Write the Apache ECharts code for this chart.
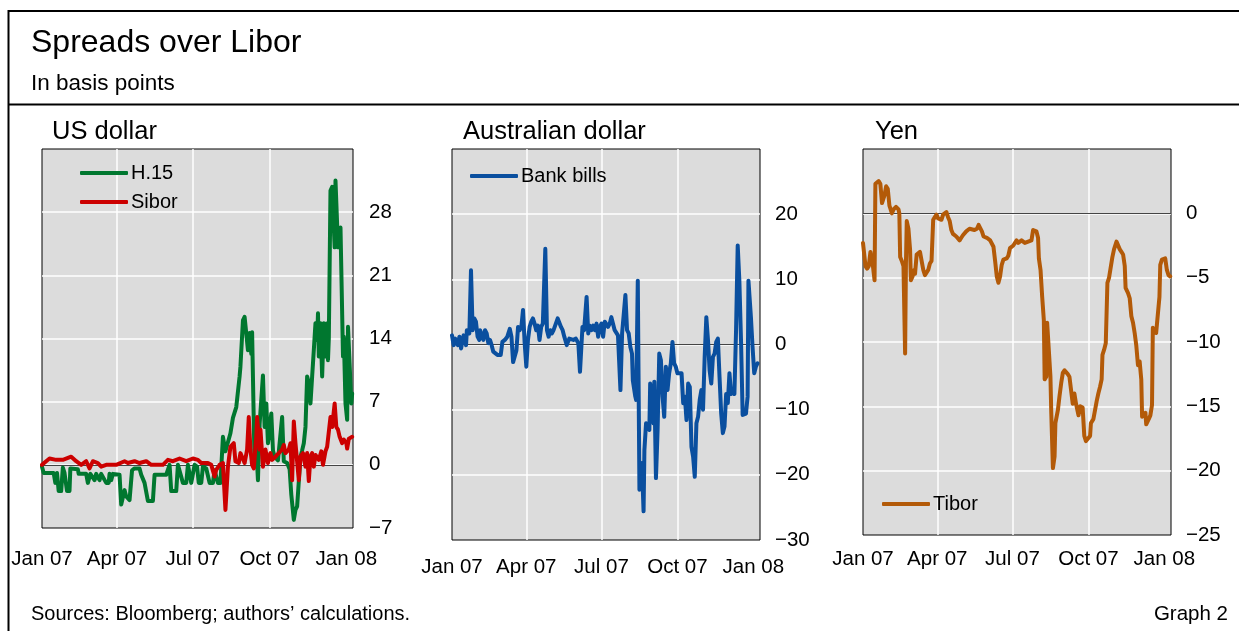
<!DOCTYPE html>
<html>
<head>
<meta charset="utf-8">
<script src="https://cdn.jsdelivr.net/npm/echarts@6/dist/echarts.min.js"></script>
<style>
html,body{margin:0;padding:0;background:#fff;}
#chart{width:1239px;height:631px;}
</style>
</head>
<body>
<div id="chart"></div>
<script>
// x values are days since 1 Jan 2007
const xTickDays = [0, 90, 181, 273, 365];
const xTickLabels = ['Jan 07', 'Apr 07', 'Jul 07', 'Oct 07', 'Jan 08'];
const panelTitles = ['US dollar', 'Australian dollar', 'Yen'];

// US dollar: H.15 spread over Libor
const h15 = [[0,-0.2],[2,-0.9],[14,-0.9],[16,-2.0],[17,-2.0],[18,-0.9],[20,-2.9],[23,-2.9],[25,-0.3],[27,-0.9],[30,-2.9],[33,-2.9],[34,-0.4],[43,-0.5],[44,-1.0],[53,-1.0],[55,-2.0],[57,-2.0],[58,-1.0],[63,-1.7],[65,-1.0],[69,-1.7],[71,-1.0],[77,-2.0],[80,-2.0],[81,-1.0],[83,-1.7],[85,-1.0],[93,-1.1],[95,-4.4],[97,-4.4],[99,-2.8],[101,-3.5],[105,-3.9],[108,-0.6],[111,-0.4],[117,-0.4],[119,-1.1],[123,-2.0],[125,-2.0],[127,-4.0],[133,-4.0],[135,-1.1],[149,-1.1],[153,0],[155,-2.9],[161,-2.9],[163,0],[166,-1.0],[169,-2.0],[173,-2.0],[175,0],[177,-1.0],[179,-2.0],[181,-1.0],[183,0],[186,-0.2],[188,-2.0],[191,-2.0],[193,-0.2],[197,-0.4],[201,-2.0],[205,-2.0],[207,-0.6],[211,-2.0],[214,-2.0],[217,3.1],[220,1.5],[223,2.5],[226,3.5],[229,5.2],[231,5.4],[233,6.4],[235,6.6],[237,9.8],[238,10.9],[241,16.0],[243,16.4],[245,16.2],[247,12.7],[249,14.6],[251,12.3],[252,14.7],[254,14.5],[255,-0.2],[257,2.0],[259,-1.7],[261,4.5],[265,9.9],[267,4.2],[269,6.8],[271,2.4],[275,5.7],[277,1.6],[279,0.9],[283,0.5],[288,5.3],[290,0.4],[294,0.2],[297,-0.5],[299,-3.3],[300,-3.5],[302,-6.1],[304,-5.0],[306,-4.6],[308,-4.6],[310,0.9],[312,1.6],[314,2.4],[316,4.2],[318,9.8],[320,9.1],[322,6.8],[324,9.8],[326,12.7],[328,15.7],[330,13.8],[331,16.8],[332,12.0],[334,15.7],[336,9.8],[338,15.7],[340,12.0],[342,15.7],[343,11.6],[344,14.0],[346,30.4],[348,30.8],[351,24.1],[352,31.5],[354,31.5],[355,24.1],[357,24.5],[358,26.3],[360,26.3],[361,12.0],[362,14.2],[364,6.8],[366,5.0],[367,15.3],[369,15.3],[371,6.8],[372,7.9]];

// US dollar: Sibor spread over Libor
const sibor = [[0,0],[5,0.4],[9,0.7],[17,0.55],[25,0.55],[35,0.9],[41,0.4],[47,0],[53,0.4],[57,-0.4],[61,0.4],[67,0.2],[71,-0.2],[77,0],[89,0],[99,0.4],[103,0.2],[111,0.4],[117,0.2],[125,0.4],[131,0],[145,0],[151,0.55],[157,0.4],[165,0.7],[173,0.4],[181,0.7],[187,0.55],[191,0.2],[199,0.2],[203,0],[207,-1.3],[209,-0.55],[213,0],[217,0.2],[220,-5.0],[223,-0.2],[226,2.0],[230,2.4],[232,0.4],[236,0.2],[238,1.3],[243,0.2],[246,1.7],[248,5.3],[250,1.7],[252,0],[254,-0.4],[257,3.1],[258,5.3],[261,1.7],[262,3.9],[265,-0.2],[268,1.7],[271,0.2],[274,1.3],[276,0.55],[280,0.9],[284,1.3],[288,1.7],[290,2.2],[292,1.3],[296,1.7],[298,2.4],[300,-1.7],[302,4.8],[304,2.4],[308,-1.7],[310,0.9],[313,1.3],[316,-0.2],[318,1.3],[320,-1.8],[322,0.9],[324,1.3],[326,-0.2],[328,1.1],[332,0.55],[335,1.5],[337,0],[340,1.5],[342,2.0],[346,5.3],[348,4.2],[351,6.8],[353,4.2],[355,3.9],[357,3.1],[360,2.4],[362,2.8],[365,2.4],[366,1.8],[368,2.9],[370,2.8],[372,3.1]];

// Australian dollar: bank bills spread over Libor
const bankBills = [[0,1.4],[2,-0.1],[4,0.9],[7,-0.1],[9,1.2],[11,-0.6],[14,1.4],[17,-0.1],[18,2.2],[21,1.7],[23,11.4],[25,2.2],[27,4.0],[29,3.5],[31,1.2],[33,0.7],[34,2.2],[36,2.4],[38,0.7],[40,2.2],[42,1.7],[44,0.2],[46,0.7],[48,-0.1],[50,-1.1],[52,-0.9],[55,-1.6],[57,-1.4],[59,-1.6],[61,0.4],[64,0.7],[67,1.2],[70,2.4],[72,1.2],[74,-2.7],[76,-2.7],[78,-0.9],[80,2.7],[82,2.2],[84,2.7],[86,5.3],[88,0.2],[90,-3.4],[92,0.7],[94,2.7],[96,3.5],[98,4.0],[100,3.2],[102,2.2],[104,2.9],[106,0.7],[108,2.7],[110,3.2],[113,14.7],[115,2.2],[117,1.2],[119,2.2],[121,1.7],[123,2.2],[125,2.2],[128,4.0],[130,4.3],[132,2.7],[134,2.2],[136,1.2],[139,-0.1],[142,0.9],[144,0.7],[147,0.7],[150,0.9],[153,0.2],[155,-4.2],[158,2.7],[160,2.2],[163,7.3],[165,1.7],[167,2.9],[169,2.2],[171,2.9],[173,2.2],[175,3.2],[177,1.2],[179,2.7],[181,3.2],[183,1.2],[185,3.5],[187,3.7],[189,2.7],[191,3.2],[193,4.2],[195,3.2],[197,2.2],[199,1.9],[201,1.4],[203,1.7],[204,-7.0],[206,1.7],[208,1.9],[210,7.6],[212,2.2],[214,1.7],[216,-0.4],[218,-1.4],[219,-5.5],[222,-8.0],[223,-8.5],[225,9.8],[227,-22.3],[228,-22.3],[230,-18.2],[232,-25.6],[233,-16.2],[235,-12.1],[237,-11.8],[239,-13.1],[240,-6.0],[242,-6.0],[244,-12.1],[245,-5.7],[247,-20.5],[249,-13.1],[251,-1.4],[253,-2.4],[255,-8.0],[257,-11.1],[259,-3.4],[261,-7.0],[263,-4.4],[265,-2.9],[267,0.4],[269,-2.9],[271,-3.4],[273,-4.4],[275,-4.7],[278,-4.4],[280,-9.0],[282,-8.0],[284,-11.6],[286,-6.0],[288,-6.5],[290,-15.7],[292,-17.2],[294,-20.3],[296,-12.1],[298,-11.1],[300,-8.5],[302,-7.0],[304,-10.0],[306,-1.9],[308,4.2],[310,0.7],[312,-4.0],[314,-6.0],[316,-1.9],[318,-1.4],[320,0.4],[322,0.9],[324,-5.0],[326,-10.6],[328,-13.6],[330,-12.6],[332,-7.6],[334,-9.0],[336,-4.4],[338,-7.6],[340,-7.1],[342,-7.6],[344,2.2],[346,15.2],[348,9.8],[350,0.7],[352,-10.8],[354,-10.6],[356,-10.6],[358,-8.0],[359,9.8],[362,4.2],[364,-0.4],[366,-4.4],[368,-3.4],[370,-2.9]];

// Yen: Tibor spread over Libor
const tibor = [[0,-2.3],[2,-2.2],[3,-4.1],[5,-4.3],[7,-4.1],[9,-3.0],[11,-3.1],[12,-4.1],[14,-5.2],[15,2.3],[17,2.2],[19,2.5],[21,2.3],[23,0.8],[24,0.9],[26,1.4],[28,2.1],[30,1.9],[32,0.6],[33,0.4],[35,0],[37,0.3],[40,0.5],[41,0.4],[43,0.3],[44,0],[45,-3.4],[47,-3.7],[49,-4.1],[51,-10.9],[52,-3.9],[53,-0.6],[55,-1.2],[57,-2.8],[58,-5.2],[60,-4.9],[62,-4.4],[63,-4.7],[65,-3.2],[67,-3.1],[69,-3.0],[71,-3.1],[73,-4.4],[75,-4.8],[77,-4.9],[79,-4.4],[81,-3.9],[83,-3.7],[85,-0.5],[87,-0.3],[89,-0.1],[91,-0.4],[93,-0.3],[95,-0.5],[97,-0.1],[99,0],[101,0.1],[103,-0.3],[105,-0.6],[107,-1.3],[109,-1.6],[111,-1.7],[113,-1.8],[115,-1.9],[117,-2.1],[119,-1.9],[121,-1.7],[123,-1.6],[125,-1.4],[127,-1.3],[129,-1.2],[131,-1.3],[135,-1.3],[138,-1.2],[140,-0.9],[142,-0.9],[144,-1.4],[146,-1.8],[150,-1.9],[154,-2.1],[156,-2.1],[158,-2.6],[160,-3.7],[162,-4.9],[164,-5.4],[166,-4.9],[168,-4.0],[170,-3.6],[174,-3.5],[176,-3.3],[178,-2.7],[182,-2.5],[186,-2.1],[188,-2.3],[192,-2.1],[196,-2.3],[200,-2.2],[204,-2.1],[206,-1.3],[208,-1.2],[210,-1.4],[212,-1.9],[213,-3.5],[215,-4.4],[217,-6.5],[219,-8.3],[220,-12.9],[222,-12.7],[223,-8.5],[225,-8.5],[227,-12.7],[228,-15.5],[230,-19.8],[232,-18.9],[233,-16.3],[236,-15.3],[238,-14.2],[240,-13.2],[242,-12.4],[244,-12.2],[246,-12.3],[248,-12.5],[250,-12.7],[252,-12.7],[254,-14.8],[256,-14.0],[258,-14.8],[260,-14.9],[261,-15.7],[263,-15.0],[265,-15.1],[266,-15.1],[268,-17.3],[270,-17.7],[272,-17.6],[275,-17.3],[276,-16.3],[279,-16.0],[281,-15.3],[283,-14.6],[285,-14.0],[287,-13.5],[289,-12.9],[290,-11.0],[292,-10.6],[294,-10.1],[296,-5.4],[298,-5.0],[300,-4.9],[302,-3.4],[304,-2.8],[307,-2.2],[309,-2.2],[311,-2.8],[313,-3.0],[315,-3.2],[317,-4.1],[318,-5.8],[321,-6.2],[323,-6.6],[325,-8.0],[327,-8.5],[329,-9.3],[331,-10.3],[333,-11.8],[335,-11.5],[337,-12.9],[338,-15.8],[340,-15.9],[342,-15.5],[343,-16.4],[346,-16.0],[348,-15.7],[350,-14.9],[351,-8.9],[353,-8.8],[355,-9.3],[357,-9.3],[359,-6.5],[360,-4.0],[362,-3.6],[364,-3.5],[366,-3.5],[368,-4.4],[370,-4.8],[372,-4.9]];

// y-axis scales per panel
const yScales = [
  {min: -7, max: 35, interval: 7},
  {min: -30, max: 30, interval: 10},
  {min: -25, max: 5, interval: 5}
];

const FONT = '"Liberation Sans", Arial, Helvetica, sans-serif';
const COLORS = {h15: '#00772f', sibor: '#cc0000', bank: '#0a4f9f', tibor: '#b35a08'};

const grids = [
  {left: 42, top: 149, width: 311, height: 379},
  {left: 452, top: 149, width: 308, height: 391},
  {left: 863, top: 149, width: 308, height: 386}
];
const xLabelMargins = [21, 17, 14];
const yLabelMargins = [16, 15, 15];

const minus = v => String(v).replace('-', '\u2212');

const option = {
  animation: false,
  backgroundColor: '#ffffff',
  textStyle: {fontFamily: FONT},
  grid: grids.map(g => Object.assign({show: true, backgroundColor: '#dcdcdc', borderColor: '#000', borderWidth: 1, containLabel: false}, g)),
  xAxis: grids.map((g, i) => ({
    type: 'value', gridIndex: i, min: 0, max: 373,
    axisLine: {show: false},
    axisTick: {show: false, customValues: xTickDays},
    axisLabel: {
      customValues: xTickDays,
      formatter: v => xTickLabels[xTickDays.indexOf(v)] || '',
      color: '#000', fontSize: 20.5, fontFamily: FONT, margin: xLabelMargins[i]
    },
    splitLine: {show: true, showMinLine: false, showMaxLine: false, lineStyle: {color: '#ffffff', width: 1.5}}
  })),
  yAxis: grids.map((g, i) => ({
    type: 'value', gridIndex: i, position: 'right',
    min: yScales[i].min, max: yScales[i].max, interval: yScales[i].interval,
    axisLine: {show: false}, axisTick: {show: false},
    axisLabel: {
      showMaxLabel: false, formatter: minus, color: '#000', fontSize: 20.5, fontFamily: FONT,
      align: 'left', margin: yLabelMargins[i]
    },
    splitLine: {show: true, showMinLine: false, showMaxLine: false, lineStyle: {color: '#ffffff', width: 1.5}}
  })),
  legend: [
    {data: ['H.15', 'Sibor'], left: 80, top: 163, orient: 'vertical', itemGap: 9},
    {data: ['Bank bills'], left: 470, top: 166, orient: 'vertical'},
    {data: ['Tibor'], left: 882, top: 494, orient: 'vertical'}
  ].map(l => Object.assign({
    icon: 'roundRect', itemWidth: 48, itemHeight: 4, padding: 0, selectedMode: false,
    textStyle: {fontSize: 20, fontFamily: FONT, color: '#000', lineHeight: 20, padding: [0, 0, 0, -2]}
  }, l)),
  series: [],
  graphic: []
};

function line(name, data, color, idx, withZero) {
  const s = {
    type: 'line', name, data, xAxisIndex: idx, yAxisIndex: idx,
    symbol: 'none', showSymbol: false, color,
    itemStyle: {color},
    lineStyle: {color, width: 4, join: 'round', cap: 'round'},
    emphasis: {disabled: true}, silent: true, z: 3
  };
  if (withZero) {
    s.markLine = {
      silent: true, symbol: 'none', z: 1, label: {show: false},
      lineStyle: {color: '#444', width: 1, type: 'solid'},
      data: [{yAxis: 0}]
    };
  }
  return s;
}
option.series.push(line('H.15', h15, COLORS.h15, 0, true));
option.series.push(line('Sibor', sibor, COLORS.sibor, 0, false));
option.series.push(line('Bank bills', bankBills, COLORS.bank, 1, true));
option.series.push(line('Tibor', tibor, COLORS.tibor, 2, true));

function txt(text, x, y, size, align) {
  return {type: 'text', x, y, silent: true, z: 10,
    style: {text, font: size + 'px ' + FONT, fill: '#000', align: align || 'left', verticalAlign: 'middle'}};
}
function hl(x1, y1, x2, y2) {
  return {type: 'line', silent: true, z: 10, shape: {x1, y1, x2, y2}, style: {stroke: '#000', lineWidth: 2}};
}
option.graphic = [
  hl(8.5, 11, 1239, 11),
  hl(8.5, 10, 8.5, 631),
  hl(8.5, 104.5, 1239, 104.5),
  txt('Spreads over Libor', 31, 43, 32),
  txt('In basis points', 31, 84, 22.5),
  txt(panelTitles[0], 52, 132, 25.5),
  txt(panelTitles[1], 463, 132, 25.5),
  txt(panelTitles[2], 875, 132, 25.5),
  txt('Sources: Bloomberg; authors\u2019 calculations.', 31, 614, 20),
  txt('Graph 2', 1228, 614, 20.5, 'right')
];

const chart = echarts.init(document.getElementById('chart'), null, {renderer: 'canvas'});
chart.setOption(option);
</script>
</body>
</html>
